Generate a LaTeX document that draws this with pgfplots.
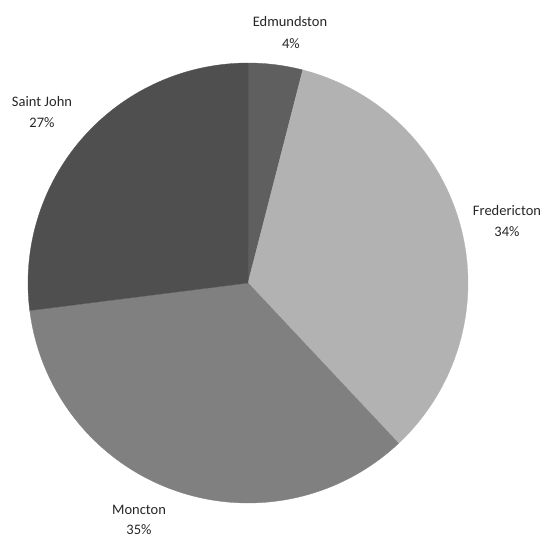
\documentclass[border=0pt]{standalone}
\usepackage{pgfplots}
\pgfplotsset{compat=1.18}
\usepackage{fontspec}
\setmainfont{Carlito}
\definecolor{cE}{HTML}{5F5F5F}
\definecolor{cF}{HTML}{B2B2B2}
\definecolor{cM}{HTML}{808080}
\definecolor{cS}{HTML}{4F4F4F}
% shares (percent)
\def\vE{4}\def\vF{34}\def\vM{35}\def\vS{27}
\pgfmathsetmacro{\aA}{90}
\pgfmathsetmacro{\aB}{\aA-3.6*\vE}
\pgfmathsetmacro{\aC}{\aB-3.6*\vF}
\pgfmathsetmacro{\aD}{\aC-3.6*\vM}
\pgfmathsetmacro{\aE}{\aD-3.6*\vS}
\def\cx{248}\def\cy{255}\def\R{220}
\begin{document}
\begin{tikzpicture}
\begin{axis}[hide axis, scale only axis, width=548pt, height=538pt,
  xmin=0, xmax=548, ymin=0, ymax=538, clip=false]
\path (rel axis cs:0,0) rectangle (rel axis cs:1,1);
\addplot[fill=cE, draw=cE, line width=0.3pt, domain=\aB:\aA, samples=20, variable=\t]
  ({\cx+\R*cos(t)},{\cy+\R*sin(t)}) -- (axis cs:\cx,\cy) -- cycle;
\addplot[fill=cF, draw=cF, line width=0.3pt, domain=\aC:\aB, samples=80, variable=\t]
  ({\cx+\R*cos(t)},{\cy+\R*sin(t)}) -- (axis cs:\cx,\cy) -- cycle;
\addplot[fill=cM, draw=cM, line width=0.3pt, domain=\aD:\aC, samples=80, variable=\t]
  ({\cx+\R*cos(t)},{\cy+\R*sin(t)}) -- (axis cs:\cx,\cy) -- cycle;
\addplot[fill=cS, draw=cS, line width=0.3pt, domain=\aE:\aD, samples=70, variable=\t]
  ({\cx+\R*cos(t)},{\cy+\R*sin(t)}) -- (axis cs:\cx,\cy) -- cycle;
\begin{scope}[every node/.style={anchor=base, inner sep=0pt, text=black!85, font=\fontsize{14.5}{17}\selectfont}]
\node at (axis cs:290,538-26.7) {Edmundston};
\node at (axis cs:291,538-48.3) {4\%};
\node at (axis cs:507,538-215.7) {Fredericton};
\node at (axis cs:507,538-236.7) {34\%};
\node at (axis cs:139,538-514.5) {Moncton};
\node at (axis cs:139,538-534.8) {35\%};
\node at (axis cs:42,538-106.7) {Saint John};
\node at (axis cs:42,538-128) {27\%};
\end{scope}
\end{axis}
\end{tikzpicture}
\end{document}
